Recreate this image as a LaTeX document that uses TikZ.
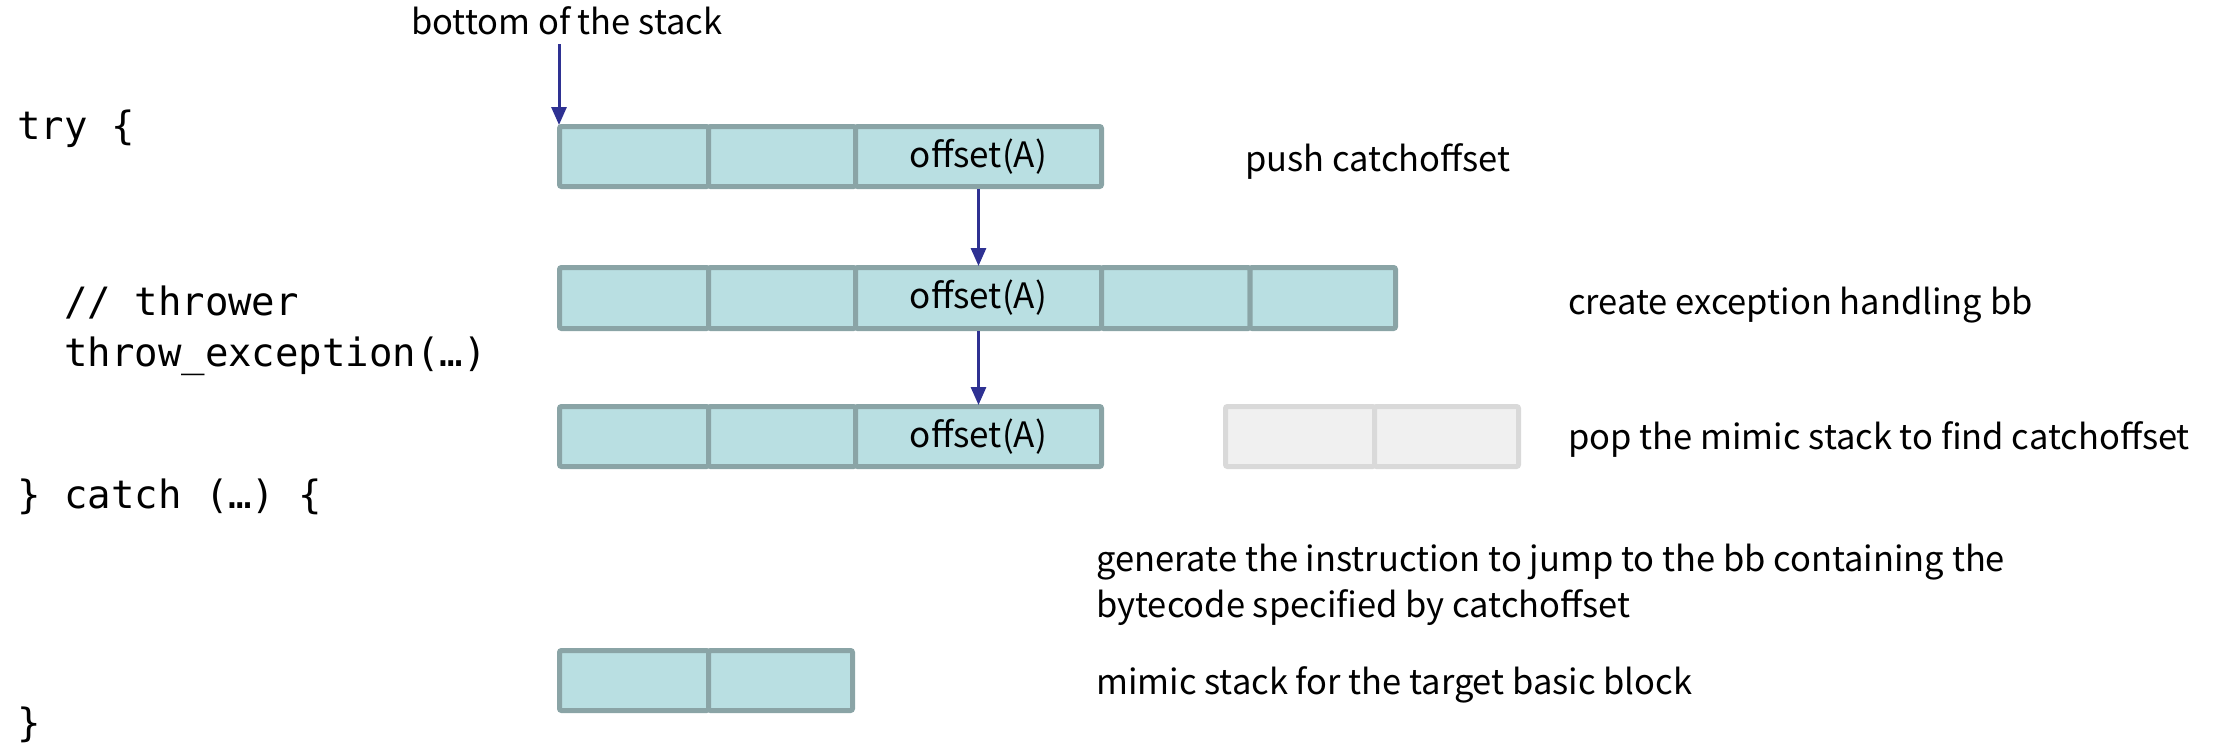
\documentclass[tikz,border=0pt]{standalone}
\usepackage{fontspec}
\setmainfont{Noto Sans CJK SC}
\setmonofont{DejaVu Sans Mono}
\usetikzlibrary{arrows.meta}
\definecolor{cellfill}{HTML}{B9DFE2}
\definecolor{cellline}{HTML}{8AA4A6}
\definecolor{ghostfill}{HTML}{F0F0F0}
\definecolor{ghostline}{HTML}{D9D9D9}
\definecolor{arrowblue}{HTML}{2E3192}
\tikzset{
  cell/.style={rectangle, draw=cellline, fill=cellfill, line width=5pt,
    rounded corners=2pt, inner sep=0pt, minimum height=60pt,
    font=\fontsize{35}{42}\selectfont},
  ghost/.style={cell, draw=ghostline, fill=ghostfill},
  note/.style={anchor=mid west, inner sep=0pt, font=\fontsize{34.5}{41}\selectfont},
  code/.style={anchor=mid west, inner sep=0pt, font=\ttfamily\fontsize{39}{47}\selectfont},
  flow/.style={draw=arrowblue, line width=3pt,
    -{Triangle[width=15pt,length=18pt]}, shorten >=-1pt}
}
\newcommand\celltext[1]{\raisebox{-3pt}{#1}}
\begin{document}
\begin{tikzpicture}[x=1pt,y=-1pt]
\useasboundingbox (0,0) rectangle (2223,742);

% source code on the left
\node[code] (ltry)   at (17,137) {try \{};
\node[code] (lcom)   at (17,313) {\ \ // thrower};
\node[code] (lthrow) at (17,364) {\ \ throw\_exception(…)};
\node[code] (lcatch) at (17,506) {\} catch (…) \{};
\node[code] (lend)   at (17,734) {\}};

% stack after push
\node[cell, minimum width=149pt] (r1a) at (634,156.5) {};
\node[cell, minimum width=147pt] (r1b) at (782,156.5) {};
\node[cell, minimum width=246pt] (r1c) at (978.5,156.5) {\celltext{offset(A)}};

% stack inside the handling bb
\node[cell, minimum width=149pt, minimum height=61pt] (r2a) at (634,298) {};
\node[cell, minimum width=147pt, minimum height=61pt] (r2b) at (782,298) {};
\node[cell, minimum width=246pt, minimum height=61pt] (r2c) at (978.5,298) {\celltext{offset(A)}};
\node[cell, minimum width=148.5pt, minimum height=61pt] (r2d) at (1175.75,298) {};
\node[cell, minimum width=145.5pt, minimum height=61pt] (r2e) at (1322.75,298) {};

% stack after popping
\node[cell, minimum width=149pt] (r3a) at (634,436.5) {};
\node[cell, minimum width=147pt] (r3b) at (782,436.5) {};
\node[cell, minimum width=246pt] (r3c) at (978.5,436.5) {\celltext{offset(A)}};
\node[ghost, minimum width=149pt] (g1) at (1300,436.5) {};
\node[ghost, minimum width=144pt] (g2) at (1446.5,436.5) {};

% stack of the target block
\node[cell, minimum width=149pt] (r4a) at (634,680.5) {};
\node[cell, minimum width=144pt] (r4b) at (780.5,680.5) {};

% descriptions
\node[note] (nbot)  at (411,32) {bottom of the stack};
\node[note] (npush) at (1245,169) {push catchoffset};
\node[note] (ncre)  at (1568,312) {create exception handling bb};
\node[note] (npop)  at (1568,447) {pop the mimic stack to find catchoffset};
\node[note] (ngen1) at (1096,569) {generate the instruction to jump to the bb containing the};
\node[note] (ngen2) at (1096,615) {bytecode specified by catchoffset};
\node[note] (nmim)  at (1096,692) {mimic stack for the target basic block};

% arrows
\path ([xshift=2pt]r1a.north west) ++(0,-80) coordinate (abot);
\draw[flow] (abot) -- ([xshift=2pt]r1a.north west);
\draw[flow] (r1c.south) -- (r2c.north);
\draw[flow] (r2c.south) -- (r3c.north);
\end{tikzpicture}
\end{document}
